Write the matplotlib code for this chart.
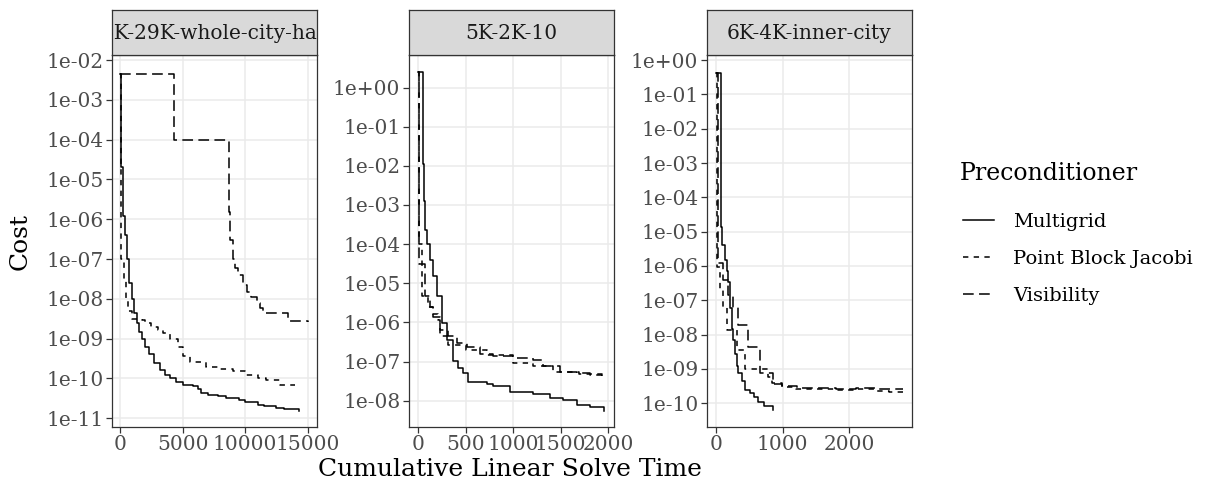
import matplotlib
matplotlib.use("Agg")
import matplotlib.pyplot as plt
from matplotlib.lines import Line2D

# facet names
panels = ["15K-29K-whole-city-hard", "5K-2K-10", "6K-4K-inner-city"]
series = ["Multigrid", "Point Block Jacobi", "Visibility"]

# panel 1 : cumulative time / cost
mg1_t = [0, 60, 80, 220, 350, 510, 700, 910, 1100, 1300, 1500, 1710, 2000, 2300, 2700, 3200, 3600,
         3980, 4500, 5000, 5800, 6200, 6500, 7000, 7800, 8500, 9500, 10000, 11000, 11500, 12500, 13100, 14300]
mg1_c = [4.5e-3, 1e-3, 2e-5, 1.2e-6, 4e-7, 1e-7, 2.5e-8, 1e-8, 4.5e-9, 2.5e-9, 1.5e-9, 1e-9, 6e-10, 4e-10,
         2.5e-10, 1.6e-10, 1.2e-10, 1e-10, 8e-11, 6.7e-11, 6.5e-11, 5.5e-11, 4.2e-11, 3.8e-11, 3.6e-11,
         3.2e-11, 2.8e-11, 2.5e-11, 2.2e-11, 2.0e-11, 1.85e-11, 1.7e-11, 1.5e-11]
pbj1_t = [0, 30, 40, 80, 300, 460, 620, 900, 1700, 2000, 2500, 3000, 3450, 4000, 4600, 5000, 5600,
          6900, 8000, 9000, 10000, 11000, 11700, 12800, 14000]
pbj1_c = [4.5e-3, 1e-4, 1e-6, 1e-7, 3e-8, 1e-8, 5e-9, 3.2e-9, 3.0e-9, 2.5e-9, 2e-9, 1.6e-9, 1.35e-9,
          1.0e-9, 6e-10, 3.6e-10, 2.6e-10, 1.9e-10, 1.7e-10, 1.5e-10, 1.2e-10, 1.0e-10, 9e-11, 7e-11, 7e-11]
vis1_t = [0, 4300, 8700, 8800, 9000, 9200, 9460, 9800, 10130, 10500, 10930, 11200, 11460, 13460, 15000]
vis1_c = [4.5e-3, 1e-4, 1.5e-6, 3e-7, 1e-7, 6e-8, 4e-8, 2.2e-8, 1.5e-8, 1.1e-8, 8e-9, 6e-9, 4.3e-9,
          2.7e-9, 2.6e-9]

# panel 2
mg2_t = [0, 50, 63, 71, 88, 120, 158, 194, 247, 300, 370, 420, 475, 527, 720, 790, 967, 1213, 1390,
         1530, 1670, 1810, 1960]
mg2_c = [2.5, 1.1e-2, 1.3e-3, 2.3e-4, 1e-4, 4e-5, 1.5e-5, 4.6e-6, 9.6e-7, 3.5e-7, 1.05e-7, 7e-8, 5e-8,
         3.0e-8, 2.6e-8, 2.4e-8, 1.66e-8, 1.5e-8, 1.2e-8, 1.05e-8, 7.6e-9, 6.8e-9, 5.5e-9]
pbj2_t = [0, 10, 36, 100, 160, 211, 229, 317, 500, 721, 1002, 1213, 1424, 1700, 1935]
pbj2_c = [2.5, 1e-4, 4.6e-6, 2.5e-6, 1.6e-6, 1.15e-6, 4.4e-7, 2.7e-7, 2.0e-7, 1.5e-7, 9e-8, 7.5e-8,
          5.5e-8, 4.8e-8, 4.5e-8]
vis2_t = [0, 5, 71, 120, 158, 229, 317, 405, 510, 651, 791, 1002, 1213, 1318, 1495, 1671, 1811, 1935]
vis2_c = [2.5, 3.2e-5, 4.6e-6, 2.5e-6, 1.4e-6, 6.4e-7, 4.4e-7, 3e-7, 2.4e-7, 1.6e-7, 1.35e-7, 1.2e-7,
          1.1e-7, 7.5e-8, 5.5e-8, 5e-8, 4.5e-8, 4.2e-8]

# panel 3
mg3_t = [0, 75, 95, 135, 160, 185, 210, 235, 260, 285, 310, 335, 385, 435, 510, 570, 635, 720, 850]
mg3_c = [0.43, 1.4e-5, 4e-6, 1.5e-6, 7e-7, 3.5e-7, 6e-8, 1.5e-8, 7e-9, 2.8e-9, 1.2e-9, 7.4e-10,
         4.5e-10, 2.4e-10, 2e-10, 1.5e-10, 1.1e-10, 8.5e-11, 6.3e-11]
pbj3_t = [0, 10, 60, 100, 160, 310, 435, 785, 835, 985, 1200, 1500, 1800, 2100, 2400, 2600, 2810]
pbj3_c = [0.43, 9.4e-7, 2e-7, 6.4e-8, 1.4e-8, 3.5e-9, 1e-9, 5.9e-10, 4e-10, 3e-10, 2.7e-10, 2.6e-10,
          2.4e-10, 2.6e-10, 2.3e-10, 2.2e-10, 2.3e-10]
vis3_t = [0, 35, 110, 185, 260, 335, 485, 660, 860, 985, 1210, 1500, 1800, 2100, 2400, 2810]
vis3_c = [0.43, 1.2e-6, 4e-7, 1.4e-7, 6.4e-8, 1.9e-8, 4.4e-9, 7.4e-10, 3.7e-10, 3.3e-10, 2.8e-10,
          2.8e-10, 2.7e-10, 2.8e-10, 2.6e-10, 2.7e-10]

# ticks per panel
xticks = [[0, 5000, 10000, 15000], [0, 500, 1000, 1500, 2000], [0, 1000, 2000]]
yexp = [range(-2, -12, -1), range(0, -9, -1), range(0, -11, -1)]

data = [
    [(mg1_t, mg1_c), (pbj1_t, pbj1_c), (vis1_t, vis1_c)],
    [(mg2_t, mg2_c), (pbj2_t, pbj2_c), (vis2_t, vis2_c)],
    [(mg3_t, mg3_c), (pbj3_t, pbj3_c), (vis3_t, vis3_c)],
]

plt.rcParams['font.family'] = 'DejaVu Serif'
W, H = 1206, 495
fig = plt.figure(figsize=(W / 100, H / 100), dpi=100)

styles = [dict(linestyle='-'), dict(linestyle=(0, (3.5, 3.5))), dict(linestyle=(0, (7, 3.5)))]
lw = 1.1

# pixel boxes (left, right) and limits
lefts = [111.7, 408.7, 706.7]
rights = [316.7, 614.0, 912.0]
xlims = [(-689, 15737), (-101, 2064), (-139, 2939)]
ylims = [(10 ** -11.221, 10 ** -1.874), (10 ** -8.672, 10 ** 0.832), (10 ** -10.69, 10 ** 0.146)]
top, bottom, strip_top = 55, 427, 10

gray20 = '#333333'
for i in range(3):
    l, r = lefts[i], rights[i]
    ax = fig.add_axes([l / W, 1 - bottom / H, (r - l) / W, (bottom - top) / H])
    for (t, c), st in zip(data[i], styles):
        ax.step(t, c, where='post', color='black', lw=lw, **st)
    ax.set_yscale('log')
    ax.set_xlim(*xlims[i])
    ax.set_ylim(*ylims[i])
    ax.set_xticks(xticks[i])
    ax.set_xticklabels([str(v) for v in xticks[i]])
    yt = [10.0 ** e for e in yexp[i]]
    ax.set_yticks(yt)
    ax.set_yticklabels(['1e+00' if e == 0 else '1e-%02d' % -e for e in yexp[i]])
    ax.minorticks_off()
    ax.grid(True, color='#EBEBEB', lw=1.1)
    ax.set_axisbelow(True)
    for s in ax.spines.values():
        s.set_color(gray20)
        s.set_linewidth(0.9)
    ax.tick_params(colors=gray20, labelcolor='#4D4D4D', labelsize=14.5, length=4, width=0.9, pad=2)

    sax = fig.add_axes([l / W, 1 - top / H, (r - l) / W, (top - strip_top) / H])
    sax.set_facecolor('#D9D9D9')
    sax.set_xticks([])
    sax.set_yticks([])
    for s in sax.spines.values():
        s.set_color(gray20)
        s.set_linewidth(0.9)
    sax.text(0.5, 0.47, panels[i], ha='center', va='center', fontsize=14.5, color='#1A1A1A',
             transform=sax.transAxes, clip_on=True)

fig.text(20 / W, 1 - 241 / H, 'Cost', rotation=90, ha='center', va='center', fontsize=18)
fig.text(510 / W, 1 - 470 / H, 'Cumulative Linear Solve Time', ha='center', va='center', fontsize=18)

# legend: title drawn separately so the gap below it matches
fig.text(960 / W, 1 - 173 / H, 'Preconditioner', ha='left', va='center', fontsize=17)
handles = [Line2D([], [], color='black', lw=lw, **st) for st in styles]
fig.legend(handles, series, loc='upper left', bbox_to_anchor=(955 / W, 1 - 205 / H),
           borderaxespad=0, frameon=False, fontsize=14,
           handlelength=1.6, labelspacing=0.98, handletextpad=1.0)

fig.savefig('out.png', dpi=100)
